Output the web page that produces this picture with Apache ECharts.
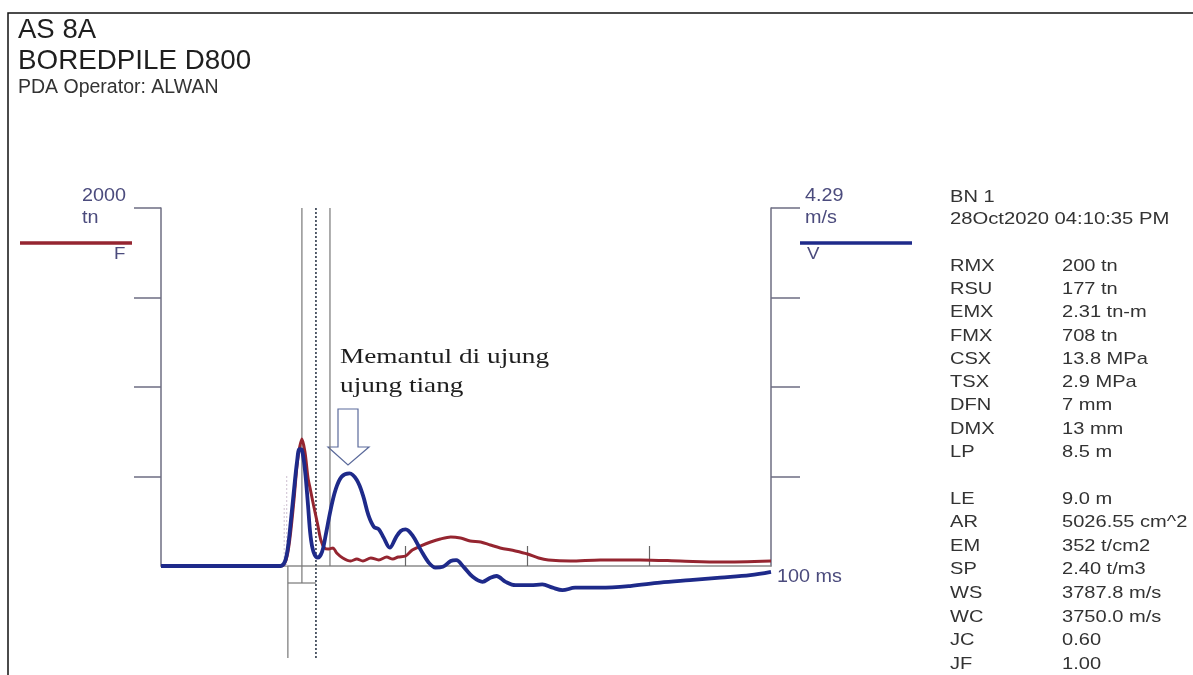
<!DOCTYPE html>
<html>
<head>
<meta charset="utf-8">
<script src="https://cdn.jsdelivr.net/npm/echarts@6/dist/echarts.min.js"></script>
<style>
html,body{margin:0;padding:0;background:#fff;}
#chart{width:1193px;height:675px;}
</style>
</head>
<body>
<div id="chart"></div>
<script>
// ---- Data ----
const timeF = [0, 19.6, 20.5, 21.1, 21.8, 22.4, 23.1, 23.6, 24.1, 24.5, 25.0, 25.7, 26.2, 26.8, 27.5, 28.2, 28.8, 29.8, 31.1, 32.1, 33.1, 34.4, 35.7, 37.0, 38.0, 38.9, 40.1, 41.2, 42.6, 44.2, 45.8, 47.5, 49.1, 50.7, 52.4, 54.0, 55.6, 58.1, 60.1, 61.9, 63.5, 67.1, 72.0, 78.6, 85.1, 91.7, 100];
const force = [0, 0, 34, 145, 369, 592, 709, 637, 492, 425, 341, 229, 145, 101, 95, 101, 73, 45, 28, 39, 28, 45, 34, 50, 39, 50, 56, 89, 112, 134, 151, 162, 156, 140, 134, 117, 101, 84, 67, 45, 34, 28, 34, 34, 28, 22, 28];

const timeV = [0, 19.6, 20.3, 20.8, 21.3, 21.8, 22.3, 22.7, 23.1, 23.6, 24.1, 24.5, 25.0, 25.7, 26.4, 27.0, 27.8, 28.6, 29.6, 30.9, 32.1, 33.1, 34.0, 34.9, 35.7, 36.5, 37.5, 38.5, 39.3, 40.1, 41.2, 42.6, 43.9, 45.0, 46.2, 47.5, 48.4, 49.6, 51.1, 52.7, 54.0, 55.0, 56.5, 58.1, 60.6, 62.5, 64.2, 65.8, 67.9, 72.0, 76.9, 81.8, 86.7, 91.7, 96.6, 100];
const velocity = [0, 0, 0.05, 0.22, 0.55, 0.91, 1.25, 1.40, 1.39, 1.15, 0.73, 0.37, 0.17, 0.10, 0.17, 0.37, 0.67, 0.91, 1.07, 1.11, 1.03, 0.85, 0.61, 0.47, 0.44, 0.34, 0.22, 0.34, 0.42, 0.44, 0.37, 0.19, 0.04, -0.02, -0.01, 0.06, 0.07, -0.01, -0.13, -0.19, -0.14, -0.12, -0.19, -0.23, -0.23, -0.22, -0.26, -0.29, -0.26, -0.26, -0.24, -0.20, -0.17, -0.14, -0.11, -0.07];

const fMax = 2000;
const vMax = 4.29;
const fTicks = [500, 1000, 1500, 2000];
const vTicks = [1.0725, 2.145, 3.2175, 4.29];
const tTicks = [40, 60, 80];

// marker lines: [time ms, force from, force to]
const markerTimes = [20.8, 23.1, 25.4, 27.7];
const markerFrom  = [0, 2000, 2000, 2000];
const markerTo    = [-514, -95, -514, 0];
const boxTimes = [20.8, 25.4];
const boxLevel = -95;
// faint pre-impact markers
const faintTimes = [20.2, 20.6];
const faintTops = [340, 510];

const panelTop = ['BN 1', '28Oct2020 04:10:35 PM'];
const panelLabels1 = ['RMX', 'RSU', 'EMX', 'FMX', 'CSX', 'TSX', 'DFN', 'DMX', 'LP'];
const panelValues1 = ['200 tn', '177 tn', '2.31 tn-m', '708 tn', '13.8 MPa', '2.9 MPa', '7 mm', '13 mm', '8.5 m'];
const panelLabels2 = ['LE', 'AR', 'EM', 'SP', 'WS', 'WC', 'JC', 'JF'];
const panelValues2 = ['9.0 m', '5026.55 cm^2', '352 t/cm2', '2.40 t/m3', '3787.8 m/s', '3750.0 m/s', '0.60', '1.00'];

// ---- Styling ----
const RED = '#952530';
const BLUE = '#1e2a8a';
const AXIS = '#6e6e82';
const LABEL = '#4b4b7d';
const PANEL = '#333333';
const SANS = '"Liberation Sans", Arial, sans-serif';

function txt(x, y, text, size, color, sx, extra) {
  return Object.assign({
    type: 'text', x: x, y: y, scaleX: sx || 1,
    style: {
      text: text, x: 0, y: 0, fill: color,
      font: size + 'px ' + SANS,
      textAlign: 'left', align: 'left',
      textVerticalAlign: 'middle', verticalAlign: 'middle'
    }
  }, extra || {});
}

const graphics = [];
// frame
graphics.push({ type: 'rect', shape: { x: 8, y: 13, width: 1200, height: 700 },
  style: { fill: 'none', stroke: '#111', lineWidth: 1.5 }, silent: true });
// titles
graphics.push(txt(18, 31, 'AS 8A', 27, '#1e1e1e', 1.02));
graphics.push(txt(18, 61, 'BOREDPILE D800', 27.5, '#1e1e1e', 1.01));
graphics.push(txt(18, 88, 'PDA Operator: ALWAN', 19.5, '#333', 1.0));
// axis captions
graphics.push(txt(82, 196, '2000', 18, LABEL, 1.1));
graphics.push(txt(82, 218, 'tn', 18, LABEL, 1.1));
graphics.push(txt(114, 254, 'F', 17, LABEL, 1.1));
graphics.push(txt(805, 196, '4.29', 18, LABEL, 1.1));
graphics.push(txt(805, 218, 'm/s', 18, LABEL, 1.1));
graphics.push(txt(807, 254, 'V', 17, LABEL, 1.1));
graphics.push(txt(777, 577, '100 ms', 18, LABEL, 1.1));
// legend strokes
graphics.push({ type: 'line', shape: { x1: 20, y1: 243, x2: 132, y2: 243 },
  style: { stroke: RED, lineWidth: 3.5 } });
graphics.push({ type: 'line', shape: { x1: 800, y1: 243, x2: 912, y2: 243 },
  style: { stroke: BLUE, lineWidth: 3.5 } });
// panel
graphics.push(txt(950, 197, panelTop[0], 17, PANEL, 1.18));
graphics.push(txt(950, 219, panelTop[1], 17, PANEL, 1.19));
panelLabels1.forEach((l, i) => {
  const y = 266 + i * 23.3;
  graphics.push(txt(950, y, l, 17, PANEL, 1.18));
  graphics.push(txt(1062, y, panelValues1[i], 17, PANEL, 1.18));
});
panelLabels2.forEach((l, i) => {
  const y = 499 + i * 23.6;
  graphics.push(txt(950, y, l, 17, PANEL, 1.18));
  graphics.push(txt(1062, y, panelValues2[i], 17, PANEL, 1.18));
});
// annotation
['Memantul di ujung', 'ujung tiang'].forEach((t, i) => {
  graphics.push({
    type: 'text', x: 340, y: 357 + i * 29, scaleX: 1.24,
    style: { text: t, x: 0, y: 0, fill: '#1e1e1e', font: '22px "Liberation Serif", "Times New Roman", serif',
      textAlign: 'left', align: 'left', textVerticalAlign: 'middle', verticalAlign: 'middle' }
  });
});
graphics.push({
  type: 'polygon',
  shape: { points: [[338, 409], [358, 409], [358, 447], [369, 447], [348, 465], [328, 447], [338, 447]] },
  style: { fill: 'none', stroke: '#5b6a9b', lineWidth: 1.2 }
});

// ---- Series ----
const series = [];
faintTimes.forEach((t, i) => {
  series.push({
    type: 'line', yAxisIndex: 0, clip: false, symbol: 'none', silent: true, z: 1,
    data: [[t, 0], [t, faintTops[i]]],
    lineStyle: { color: '#d6cbd8', width: 1.2, type: [2, 2] }
  });
});
markerTimes.forEach((t, i) => {
  const dotted = i === 2;
  series.push({
    type: 'line', yAxisIndex: 0, clip: false, symbol: 'none', silent: true, z: 1,
    data: [[t, markerFrom[i]], [t, markerTo[i]]],
    lineStyle: dotted ? { color: '#46505f', width: 1.8, type: [2, 2] } : { color: '#777', width: 1.2 }
  });
});
series.push({
  type: 'line', yAxisIndex: 0, clip: false, symbol: 'none', silent: true, z: 1,
  data: [[boxTimes[0], boxLevel], [boxTimes[1], boxLevel]],
  lineStyle: { color: '#777', width: 1.2 }
});
series.push({
  name: 'F', type: 'line', yAxisIndex: 0, clip: false, symbol: 'none', smooth: 0.3, z: 3,
  data: timeF.map((t, i) => [t, force[i]]),
  lineStyle: { color: RED, width: 3 }
});
series.push({
  name: 'V', type: 'line', yAxisIndex: 1, clip: false, symbol: 'none', smooth: 0.35, z: 4,
  data: timeV.map((t, i) => [t, velocity[i]]),
  lineStyle: { color: BLUE, width: 3.8 }
});

const chart = echarts.init(document.getElementById('chart'), null, { renderer: 'canvas' });
chart.setOption({
  animation: false,
  backgroundColor: '#fff',
  grid: { left: 161, right: 1193 - 771, top: 208, bottom: 675 - 566, containLabel: false },
  xAxis: {
    type: 'value', min: 0, max: 100,
    axisLine: { show: true, onZero: false, lineStyle: { color: '#8c8c8c', width: 1.5 } },
    axisTick: { show: true, inside: true, length: 20, customValues: tTicks, lineStyle: { color: '#666', width: 1.2 } },
    axisLabel: { show: false }, splitLine: { show: false }
  },
  yAxis: [
    {
      type: 'value', min: 0, max: fMax, position: 'left',
      axisLine: { show: true, onZero: false, lineStyle: { color: AXIS, width: 1.5 } },
      axisTick: { show: true, inside: false, length: 27, customValues: fTicks, lineStyle: { color: AXIS, width: 1.5 } },
      axisLabel: { show: false }, splitLine: { show: false }
    },
    {
      type: 'value', min: 0, max: vMax, position: 'right',
      axisLine: { show: true, onZero: false, lineStyle: { color: AXIS, width: 1.5 } },
      axisTick: { show: true, inside: false, length: 29, customValues: vTicks, lineStyle: { color: AXIS, width: 1.5 } },
      axisLabel: { show: false }, splitLine: { show: false }
    }
  ],
  graphic: graphics,
  series: series
});
</script>
</body>
</html>
